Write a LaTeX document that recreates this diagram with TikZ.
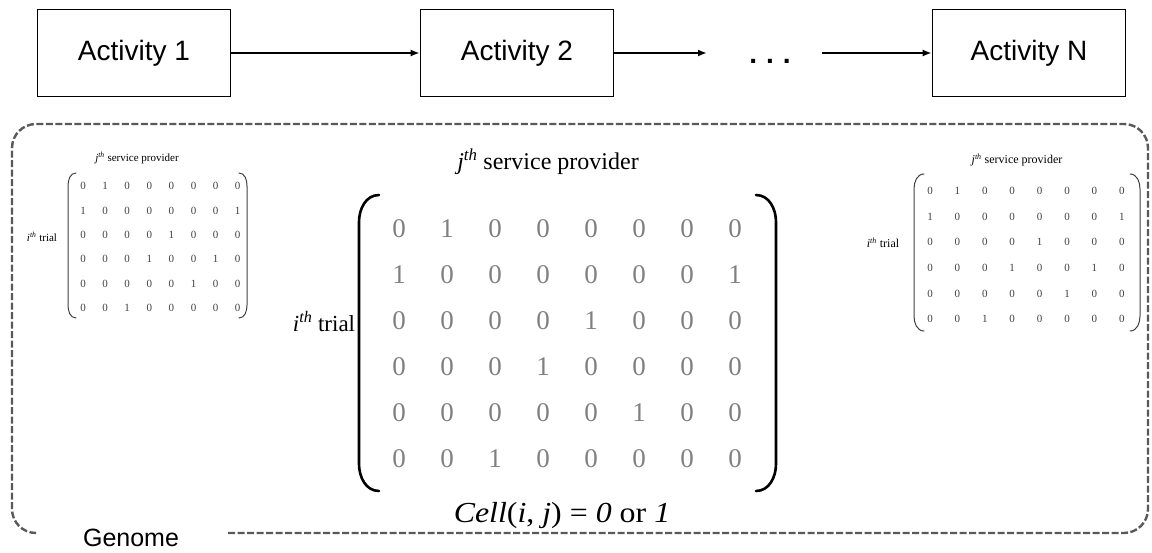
\documentclass[tikz,border=0pt]{standalone}
\usepackage{fontspec}
\usepackage{graphicx}
\setmainfont{Liberation Serif}
\newfontfamily\arialf{Liberation Sans}
\usetikzlibrary{arrows.meta}
\begin{document}
\begin{tikzpicture}[x=1pt,y=-1pt,
  actbox/.style={draw=black,line width=1.6pt,minimum width=193pt,minimum height=87pt,inner sep=0pt,font=\arialf\fontsize{28}{28}\selectfont},
  flow/.style={line width=2pt,-{Latex[length=9pt,width=7pt]}},
  bigdig/.style={text=black!50,font=\fontsize{27}{27}\selectfont,inner sep=0pt},
  smalldig/.style={text=black!75,font=\fontsize{11}{11}\selectfont,inner sep=0pt},
  bigparen/.style={line width=2.6pt,line cap=round},
  smallparen/.style={line width=1pt,draw=black!75,line cap=round},
  genomebox/.style={draw=black!65,line width=2.4pt,dash pattern=on 7pt off 2.5pt,rounded corners=24pt}
]
\useasboundingbox (0,0) rectangle (1152,553);
% top row
\node[actbox] (a1) at (134,53) {Activity 1};
\node[actbox] (a2) at (517,53) {Activity 2};
\node[actbox] (aN) at (1029,53) {Activity N};
\coordinate (c1) at (707,53);
\coordinate (c2) at (822,53);
\node[font=\arialf\bfseries\fontsize{28}{28}\selectfont,inner sep=0pt,anchor=base] (dots) at (770,64) {.\kern9pt.\kern9pt.};
\draw[flow] (a1) -- (a2);
\draw[flow] (a2) -- (c1);
\draw[flow] (c2) -- (aN);
% genome dashed box
\draw[genomebox] (228,533) -- (1148,533) -- (1148,124) -- (12,124) -- (12,533) -- (34,533);
\node[font=\arialf\fontsize{25}{25}\selectfont,inner sep=0pt,anchor=base] (genome) at (131,546) {Genome};
% main matrix
\node[font=\fontsize{24}{24}\selectfont,inner sep=0pt] (mtitle) at (548,162) {\textit{j}\textsuperscript{\itshape th} service provider};
\node[font=\fontsize{23}{23}\selectfont,inner sep=0pt] (mtrial) at (324,322) {\textit{i}\textsuperscript{\itshape th} trial};
\node[font=\fontsize{29}{29}\selectfont,inner sep=0pt] (mcell) at (562,516) {\scalebox{1.1}[1]{\textit{Cell}(\textit{i}, \textit{j}) = \textit{0} or \textit{1}}};
\draw[bigparen] (379,195) to[out=180,in=90] (359,222) -- (359,464) to[out=-90,in=180] (379,491);
\draw[bigparen] (756,195) to[out=0,in=90] (776,222) -- (776,464) to[out=-90,in=0] (756,491);
\foreach \row [count=\r from 0] in {{0,1,0,0,0,0,0,0},{1,0,0,0,0,0,0,1},{0,0,0,0,1,0,0,0},{0,0,0,1,0,0,0,0},{0,0,0,0,0,1,0,0},{0,0,1,0,0,0,0,0}}{
  \foreach \v [count=\c from 0] in \row {
    \node[bigdig] (m-\r-\c) at ({399+48*\c},{229+46*\r}) {\v};
  }
}
% left small matrix
\node[font=\fontsize{11}{11}\selectfont,inner sep=0pt] (ltitle) at (137,158) {\textit{j}\textsuperscript{\itshape th} service provider};
\node[font=\fontsize{11}{11}\selectfont,inner sep=0pt] (ltrial) at (42,237) {\textit{i}\textsuperscript{\itshape th} trial};
\draw[smallparen] (76,173) to[out=180,in=90] (68,186) -- (68,305) to[out=-90,in=180] (76,318);
\draw[smallparen] (239,173) to[out=0,in=90] (247,186) -- (247,305) to[out=-90,in=0] (239,318);
\foreach \row [count=\r from 0] in {{0,1,0,0,0,0,0,0},{1,0,0,0,0,0,0,1},{0,0,0,0,1,0,0,0},{0,0,0,1,0,0,1,0},{0,0,0,0,0,1,0,0},{0,0,1,0,0,0,0,0}}{
  \foreach \v [count=\c from 0] in \row {
    \node[smalldig] (l-\r-\c) at ({83+22.1*\c},{186+24.4*\r}) {\v};
  }
}
% right small matrix
\node[font=\fontsize{12}{12}\selectfont,inner sep=0pt] (rtitle) at (1017,160) {\textit{j}\textsuperscript{\itshape th} service provider};
\node[font=\fontsize{12}{12}\selectfont,inner sep=0pt] (rtrial) at (883,243) {\textit{i}\textsuperscript{\itshape th} trial};
\draw[smallparen] (924,174) to[out=180,in=90] (914,189) -- (914,316) to[out=-90,in=180] (924,331);
\draw[smallparen] (1130,174) to[out=0,in=90] (1140,189) -- (1140,316) to[out=-90,in=0] (1130,331);
\foreach \row [count=\r from 0] in {{0,1,0,0,0,0,0,0},{1,0,0,0,0,0,0,1},{0,0,0,0,1,0,0,0},{0,0,0,1,0,0,1,0},{0,0,0,0,0,1,0,0},{0,0,1,0,0,0,0,0}}{
  \foreach \v [count=\c from 0] in \row {
    \node[smalldig] (r-\r-\c) at ({930+27.4*\c},{191+25.6*\r}) {\v};
  }
}
\end{tikzpicture}
\end{document}
